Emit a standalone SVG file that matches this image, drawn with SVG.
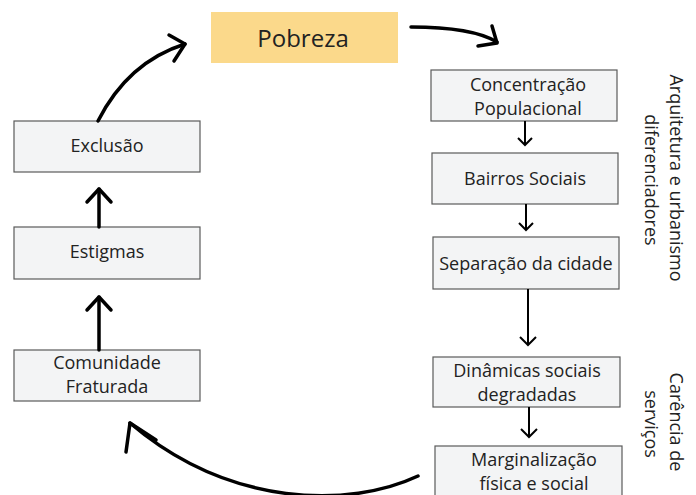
<svg xmlns="http://www.w3.org/2000/svg" width="696" height="495" viewBox="0 0 696 495">
<style>
.box{fill:#f3f4f5;stroke:#5a5a5a;stroke-width:1.2}
.t{font-family:"Open Sans","Noto Sans","Liberation Sans",sans-serif;font-size:18px;fill:#222;text-anchor:middle}
.v{font-family:"Open Sans","Noto Sans","Liberation Sans",sans-serif;font-size:18px;fill:#222;text-anchor:middle}
.thick{fill:none;stroke:#000;stroke-width:3.5;stroke-linecap:round;stroke-linejoin:round}
.thin{fill:none;stroke:#000;stroke-width:2;stroke-linecap:butt;stroke-linejoin:miter}
</style>
<rect width="696" height="495" fill="#fff"/>
<g id="pobreza">
<rect x="211" y="12" width="187" height="51" fill="#fbd98b"/>
<text x="303" y="47" class="t" style="font-size:24px">Pobreza</text>
</g>
<g id="exclusao">
<rect class="box" x="14" y="121" width="186" height="51"/>
<text x="107" y="152" class="t">Exclusão</text>
</g>
<g id="estigmas">
<rect class="box" x="14" y="227" width="186" height="52"/>
<text x="107" y="258" class="t">Estigmas</text>
</g>
<g id="comunidade">
<rect class="box" x="14" y="350" width="186" height="51"/>
<text x="107" y="369" class="t">Comunidade</text>
<text x="107" y="393" class="t">Fraturada</text>
</g>
<g id="concentracao">
<rect class="box" x="431" y="70" width="186" height="51"/>
<text x="528" y="91" class="t">Concentração</text>
<text x="528" y="115" class="t">Populacional</text>
</g>
<g id="bairros">
<rect class="box" x="432" y="153" width="186" height="51"/>
<text x="525" y="185" class="t">Bairros Sociais</text>
</g>
<g id="separacao">
<rect class="box" x="433" y="237" width="186" height="52"/>
<text x="526" y="270" class="t">Separação da cidade</text>
</g>
<g id="dinamicas">
<rect class="box" x="433" y="357" width="187" height="50"/>
<text x="527" y="377" class="t">Dinâmicas sociais</text>
<text x="527" y="401" class="t">degradadas</text>
</g>
<g id="marginalizacao">
<rect class="box" x="435" y="446" width="187" height="60"/>
<text x="534" y="466" class="t">Marginalização</text>
<text x="534" y="490" class="t">física e social</text>
</g>
<g id="label-arquitetura">
<text class="v" transform="translate(670,178) rotate(90)">Arquitetura e urbanismo</text>
<text class="v" transform="translate(645,180) rotate(90)">diferenciadores</text>
</g>
<g id="label-carencia">
<text class="v" transform="translate(670,422) rotate(90)">Carência de</text>
<text class="v" transform="translate(645,424) rotate(90)">serviços</text>
</g>
<g id="connectors">
<path class="thick" d="M98,121 Q128,62 185,44"/>
<polyline class="thick" points="169,35 185,44 174,61"/>
<path class="thick" d="M411,27 Q472,27 497,42"/>
<polyline class="thick" points="492,26 497,43 478,46"/>
<line class="thick" x1="99" y1="227" x2="99" y2="189"/>
<polyline class="thick" points="87,202 99,189 111,202"/>
<line class="thick" x1="99" y1="350" x2="99" y2="297"/>
<polyline class="thick" points="87,310 99,297 111,310"/>
<path class="thick" d="M418,476 C350,508 230,508 130,423"/>
<polyline class="thick" points="126,452 130,423 156,440"/>
<line class="thin" x1="525" y1="121" x2="525" y2="145"/>
<polyline class="thin" points="518,138 525,145 532,138"/>
<line class="thin" x1="526" y1="204" x2="526" y2="230"/>
<polyline class="thin" points="519,223 526,230 533,223"/>
<line class="thin" x1="528" y1="289" x2="528" y2="345"/>
<polyline class="thin" points="520,337 528,345 536,337"/>
<line class="thin" x1="529" y1="407" x2="529" y2="437"/>
<polyline class="thin" points="521,429 529,437 537,429"/>
</g>
</svg>
